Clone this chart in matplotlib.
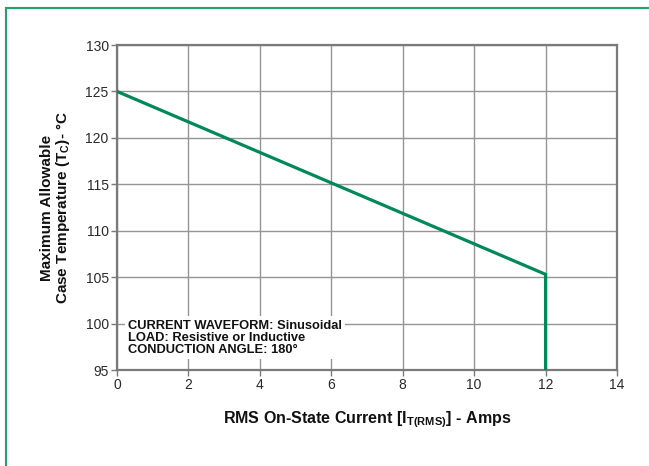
import matplotlib
matplotlib.use("Agg")
import matplotlib.pyplot as plt
from matplotlib.lines import Line2D

plt.rcParams['font.family'] = ['Liberation Sans', 'DejaVu Sans']
plt.rcParams['mathtext.fontset'] = 'custom'
plt.rcParams['mathtext.rm'] = 'Liberation Sans'
plt.rcParams['mathtext.bf'] = 'Liberation Sans:bold'
plt.rcParams['mathtext.it'] = 'Liberation Sans:italic'

# Data
current = [0, 12, 12]
temperature = [125, 105.3, 95]
x_ticks = [0, 2, 4, 6, 8, 10, 12, 14]
y_ticks = [95, 100, 105, 110, 115, 120, 125, 130]
note_lines = ["CURRENT WAVEFORM: Sinusoidal",
              "LOAD: Resistive or Inductive",
              "CONDUCTION ANGLE: 180°"]

fig = plt.figure(figsize=(6.49, 4.66), dpi=100)
ax = fig.add_axes([117/649, 1-370/466, 500/649, 325/466])

ax.set_xlim(0, 14)
ax.set_ylim(95, 130)
ax.set_xticks(x_ticks)
ax.set_yticks(y_ticks)
ax.grid(True, color='#959595', linewidth=1.0)
ax.set_axisbelow(True)
for s in ax.spines.values():
    s.set_color('#7a7a7a')
    s.set_linewidth(1.6)
ax.tick_params(axis='both', direction='out', length=4, width=1, color='#7a7a7a',
               labelsize=10, labelcolor='#2a2a2a', pad=2)

ax.plot(current, temperature, color='#00875a', linewidth=2.3, solid_joinstyle='miter', zorder=3)

ax.text(0.31, 100.4, "\n".join(note_lines), fontsize=9.3, fontweight='bold',
        va='top', ha='left', linespacing=1.0, color='#111111',
        transform=ax.transData,
        bbox=dict(facecolor='white', edgecolor='none', pad=2.5), zorder=4)

ax.set_xlabel(r"RMS On-State Current [I$_{\mathbf{T(RMS)}}$] - Amps", fontsize=11.5,
              fontweight='bold', labelpad=12, color='#111111')
ax.set_ylabel("Maximum Allowable\n" + r"Case Temperature (T$_{\mathbf{C}}$)- °C", fontsize=11,
              fontweight='bold', labelpad=10, color='#111111', linespacing=1.0)

# green frame
fig.add_artist(Line2D([6/649, 1], [1-8/466, 1-8/466], transform=fig.transFigure,
                      color='#21a070', linewidth=1.5))
fig.add_artist(Line2D([6/649, 6/649], [0, 1-8/466], transform=fig.transFigure,
                      color='#21a070', linewidth=1.5))

fig.savefig("out.png", dpi=100)
